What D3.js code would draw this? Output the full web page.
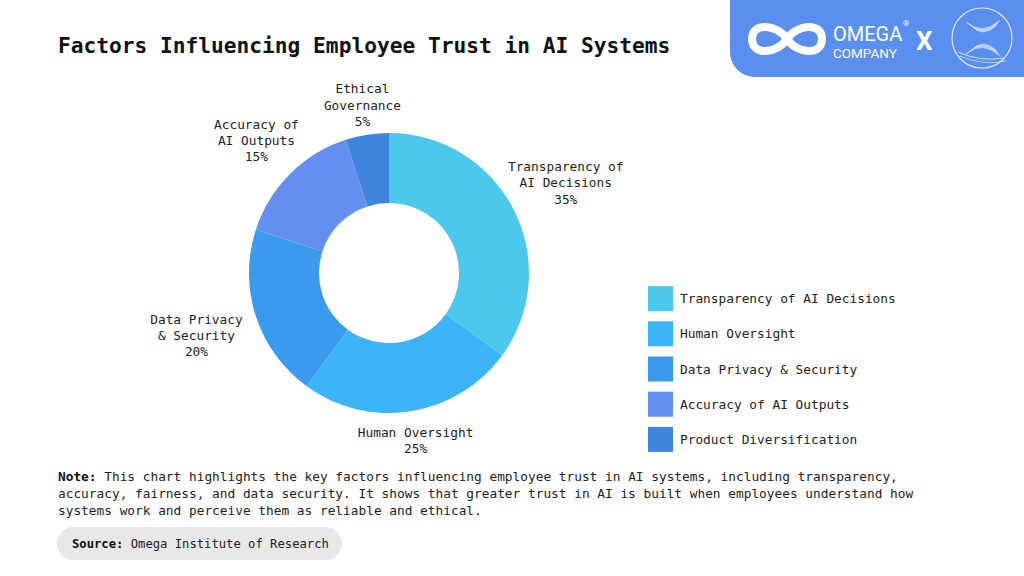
<!DOCTYPE html>
<html>
<head>
<meta charset="UTF-8">
<title>Factors Influencing Employee Trust in AI Systems</title>
<script src="https://cdn.jsdelivr.net/npm/d3@7"></script>
<style>
  body { margin: 0; background: #fff; }
  svg text { font-family: "DejaVu Sans Mono", "Liberation Mono", monospace; fill: #222; }
</style>
</head>
<body>
<script>
// slice data, clockwise from 12 o'clock
var labels = ["Transparency of AI Decisions", "Human Oversight", "Data Privacy & Security", "Accuracy of AI Outputs", "Ethical Governance"];
var values = [35, 25, 20, 15, 5];
var colors = ["#4cc8ec", "#3bb4f8", "#3a9aee", "#638ff0", "#3f84dd"];
// the chart labels break over lines like this
var sliceLabelLines = [["Transparency of", "AI Decisions"], ["Human Oversight"], ["Data Privacy", "& Security"], ["Accuracy of", "AI Outputs"], ["Ethical", "Governance"]];
// legend uses its own names (last one differs in the source)
var legendNames = ["Transparency of AI Decisions", "Human Oversight", "Data Privacy & Security", "Accuracy of AI Outputs", "Product Diversification"];

var W = 1024, H = 576;
var svg = d3.select("body").append("svg").attr("width", W).attr("height", H);

// logo banner, top right
var bx = 730, bh = 77, br = 25;
svg.append("path")
  .attr("d", "M" + bx + ",0H" + W + "V" + bh + "H" + (bx + br) + "A" + br + "," + br + " 0 0 1 " + bx + "," + (bh - br) + "Z")
  .attr("fill", "#5b8fef");
svg.append("path")
  .attr("d", "M787,39 C777,24 752,22 752,39 C752,56 777,54 787,39 C797,24 822,22 822,39 C822,56 797,54 787,39Z")
  .attr("fill", "none").attr("stroke", "#fff").attr("stroke-width", 8);
svg.append("text").attr("x", 833).attr("y", 41)
  .style("font-family", "Roboto, 'Noto Sans', sans-serif").style("font-size", "20px").style("fill", "#fff")
  .text("OMEGA");
svg.append("text").attr("x", 903).attr("y", 26)
  .style("font-family", "Roboto, sans-serif").style("font-size", "8px").style("fill", "#fff").text("®");
svg.append("text").attr("x", 833).attr("y", 58)
  .style("font-family", "Roboto, 'Noto Sans', sans-serif").style("font-size", "13.5px").style("fill", "#fff")
  .text("COMPANY");
svg.append("text").attr("x", 916).attr("y", 50)
  .style("font-family", "Roboto, sans-serif").style("font-size", "26px").style("font-weight", "bold").style("fill", "#fff")
  .text("X");
svg.append("circle").attr("cx", 982).attr("cy", 38).attr("r", 30)
  .attr("fill", "none").attr("stroke", "#dce8ff").attr("stroke-width", 1.2);
// mesh hourglass inside the badge
var mesh = svg.append("g").attr("stroke", "#e4edff").attr("stroke-width", 0.6).attr("fill", "none").attr("opacity", 0.85);
d3.range(9).forEach(function(k) {
  var t = k / 8;
  mesh.append("path").attr("d", "M" + (966 + t * 6) + "," + (22 + t * 4) + " Q982," + (36 + t * 2) + " " + (1000 - t * 4) + "," + (20 + t * 6));
  mesh.append("path").attr("d", "M" + (966 + t * 6) + "," + (54 - t * 4) + " Q982," + (40 - t * 2) + " " + (1000 - t * 4) + "," + (56 - t * 6));
});
mesh.append("path").attr("d", "M958,52 Q980,62 1004,58").attr("stroke-width", 1);
mesh.append("path").attr("d", "M960,56 Q982,66 1006,61").attr("stroke-width", 0.8);

// title
svg.append("text").attr("x", 58).attr("y", 53)
  .style("font-size", "21.2px").style("font-weight", "bold").style("fill", "#111")
  .text("Factors Influencing Employee Trust in AI Systems");

// donut
var cx = 389, cy = 273;
var outerR = 140, innerR = 70;
var g = svg.append("g").attr("transform", "translate(" + cx + "," + cy + ")");

var pie = d3.pie().sort(null).value(function(d) { return d; });
var arcs = pie(values);
var arc = d3.arc().innerRadius(innerR).outerRadius(outerR);

g.selectAll("path.slice")
  .data(arcs)
  .enter()
  .append("path")
  .attr("class", "slice")
  .attr("d", arc)
  .attr("fill", function(d, i) { return colors[i]; });

// outside labels: wider blocks sit further out at the sides
var lineH = 16.3;
arcs.forEach(function(d, i) {
  var a = (d.startAngle + d.endAngle) / 2;
  var s = Math.sin(a);
  var r = 169 + 37 * s * s;
  var px = r * s, py = -r * Math.cos(a);
  var lines = sliceLabelLines[i].concat([values[i] + "%"]);
  var t = g.append("text")
    .attr("text-anchor", "middle")
    .style("font-size", "12.8px");
  lines.forEach(function(str, k) {
    t.append("tspan")
      .attr("x", px)
      .attr("y", py + (k - (lines.length - 1) / 2) * lineH + 4.5)
      .text(str);
  });
});

// legend
var legendY = d3.scaleBand().domain(d3.range(legendNames.length)).range([281, 457]);
var lg = svg.append("g").attr("transform", "translate(648,0)");
legendNames.forEach(function(name, i) {
  var y = legendY(i) + legendY.bandwidth() / 2;
  lg.append("rect").attr("x", 0).attr("y", y - 12.5).attr("width", 25).attr("height", 25)
    .attr("fill", colors[i]);
  lg.append("text").attr("x", 32).attr("y", y + 4.5)
    .style("font-size", "12.8px")
    .text(name);
});

// note
var noteLines = [
  "This chart highlights the key factors influencing employee trust in AI systems, including transparency,",
  "accuracy, fairness, and data security. It shows that greater trust in AI is built when employees understand how",
  "systems work and perceive them as reliable and ethical."
];
var note = svg.append("text").style("font-size", "12.8px");
noteLines.forEach(function(s, k) {
  var ts = note.append("tspan").attr("x", 58).attr("y", 481 + k * 17);
  if (k === 0) {
    ts.append("tspan").style("font-weight", "bold").style("fill", "#111").text("Note: ");
    ts.append("tspan").text(s);
  } else {
    ts.text(s);
  }
});

// source pill
svg.append("rect").attr("x", 57).attr("y", 527).attr("width", 285).attr("height", 33).attr("rx", 16.5)
  .attr("fill", "#e8e8e8");
var src = svg.append("text").attr("x", 72).attr("y", 548).style("font-size", "12.2px");
src.append("tspan").style("font-weight", "bold").style("fill", "#111").text("Source: ");
src.append("tspan").text("Omega Institute of Research");
</script>
</body>
</html>
